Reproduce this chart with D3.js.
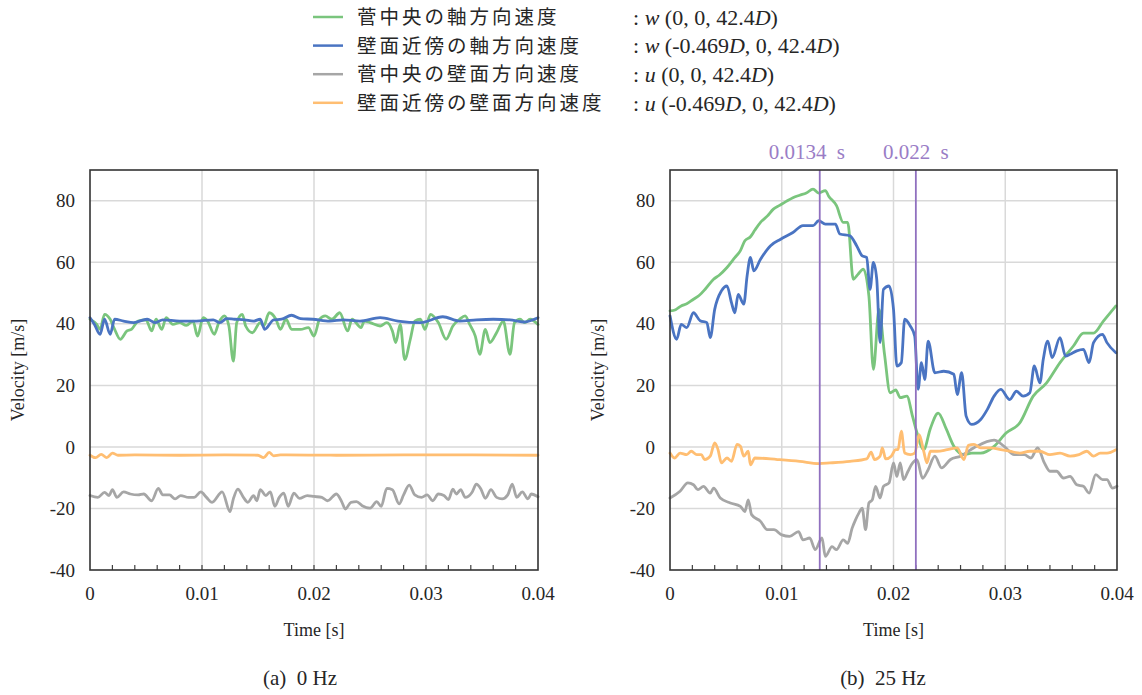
<!DOCTYPE html>
<html>
<head>
<meta charset="utf-8">
<script src="https://cdn.jsdelivr.net/npm/d3@7"></script>
<style>
  html, body { margin: 0; padding: 0; background: #fff; }
  svg { display: block; }
  .serif { font-family: "Liberation Serif", "Times New Roman", serif; }
  .jp { font-family: "Noto Sans CJK JP", "Noto Sans", sans-serif; }
</style>
</head>
<body>
<svg id="chart" width="1142" height="695"></svg>
<script>
// ---- axis ticks (time in ms, velocity in m/s) ----
const timeTicks = [0, 10, 20, 30, 40];
const timeTickLabels = ["0", "0.01", "0.02", "0.03", "0.04"];
const velTicks = [-40, -20, 0, 20, 40, 60, 80];
const minorTimeTicks = d3.range(2, 40, 2);

// ---- legend ----
const seriesNames = ["菅中央の軸方向速度", "壁面近傍の軸方向速度", "菅中央の壁面方向速度", "壁面近傍の壁面方向速度"];
const seriesNotes = [
  [[": ", 0], ["w", 1], [" (0, 0, 42.4", 0], ["D", 1], [")", 0]],
  [[": ", 0], ["w", 1], [" (-0.469", 0], ["D", 1], [", 0, 42.4", 0], ["D", 1], [")", 0]],
  [[": ", 0], ["u", 1], [" (0, 0, 42.4", 0], ["D", 1], [")", 0]],
  [[": ", 0], ["u", 1], [" (-0.469", 0], ["D", 1], [", 0, 42.4", 0], ["D", 1], [")", 0]]
];
const seriesColors = ["#7ac57d", "#4a74c2", "#a6a6a6", "#ffbe72"];

// ---- (a) 0 Hz : [time ms, velocity m/s] ----
const wCenter0 = [[0,41.5],[0.6,39.8],[0.9,38.2],[1.3,43.1],[1.8,41.5],[2.2,38.2],[2.7,35],[3.3,37.7],[3.7,38.2],[4.3,40.9],[5.0,41.3],[5.5,37.7],[5.9,41.5],[6.4,38.2],[6.8,42],[7.4,39.8],[8.0,40.4],[8.6,39.5],[9.2,40.9],[9.6,36],[10.1,42],[10.5,40.9],[11.1,36.6],[11.5,40.4],[12.0,42.6],[12.4,39.3],[12.8,27.9],[13.1,40.4],[13.6,43.1],[13.9,39.3],[14.5,37.1],[15.2,40.4],[15.5,39.3],[16.0,43.6],[16.6,41.5],[17.0,38.2],[17.5,41.5],[18.0,38.2],[18.8,38.2],[19.5,38.8],[20.0,36],[20.5,41.5],[21.0,42.6],[21.6,41.5],[22.3,43.6],[23.0,37.7],[23.4,41.5],[24.2,38.8],[24.5,40.9],[25.0,40.4],[25.9,39.3],[26.5,40.4],[27.0,37.7],[27.3,33.9],[27.7,39.8],[28.1,28.4],[28.6,35],[29.0,40.9],[29.5,41.5],[29.9,38.2],[30.4,43.1],[31.1,40.4],[31.8,35],[32.4,39.3],[33.0,41.5],[33.5,42.6],[33.9,39.8],[34.4,36],[34.8,30.1],[35.3,38.2],[35.7,33.9],[36.3,37.1],[36.9,40.9],[37.5,30.1],[37.9,40.4],[38.4,41.5],[38.8,40.4],[39.3,41.5],[40,39.8]];
const wWall0 = [[0,42],[0.4,39.8],[0.9,36.6],[1.3,41.5],[1.8,36.6],[2.2,41.5],[3.0,40.9],[3.9,40.4],[5.1,41.5],[5.8,40.4],[6.5,41.3],[8.0,40.9],[9.5,40.9],[11,41.3],[11.6,40.4],[12.2,41.7],[12.9,41.5],[13.8,41.3],[14.6,40.9],[15.2,41.5],[15.6,38.2],[16.4,41.3],[17.1,41.5],[18.0,42.8],[18.8,41.7],[19.9,41.5],[21.4,40.9],[22.6,41.3],[24.1,40.9],[25.9,42],[27.5,40.9],[29.5,40.4],[31.5,42.3],[33,40.9],[34.5,41.3],[36,41.5],[37.5,41.3],[38.7,40.6],[40,42]];
const uCenter0 = [[0,-15.8],[0.7,-16.4],[1.3,-14.8],[1.7,-15.8],[2.0,-13.9],[2.4,-16.4],[3.0,-14.6],[3.6,-15.3],[4.3,-15.6],[4.8,-15.3],[5.5,-17.5],[6.1,-13.5],[6.5,-15.6],[7.1,-15.6],[7.6,-16.9],[8.1,-15.8],[8.8,-16.4],[9.3,-16.4],[9.9,-14.6],[10.4,-16.4],[10.9,-18],[11.8,-14.6],[12.5,-21],[12.8,-16.9],[13.2,-13.7],[13.7,-16.4],[14.1,-18],[14.6,-15.8],[14.9,-17.5],[15.2,-13.9],[15.7,-15.8],[16.1,-14.6],[16.5,-19.3],[16.9,-16.4],[17.3,-15],[17.7,-19.3],[18.2,-15],[18.7,-16.7],[19.4,-15.8],[20.0,-16.1],[20.7,-16.4],[21.2,-17.5],[22.0,-15.3],[22.5,-18],[22.8,-20.2],[23.3,-18],[23.8,-17.8],[24.3,-19.1],[25.0,-19.9],[25.6,-17.8],[26.0,-19.3],[26.5,-13.5],[27.0,-13.9],[27.6,-18.5],[28.0,-15.6],[28.5,-12.4],[29.0,-15.6],[29.6,-16.4],[30.1,-15.6],[30.6,-17.5],[31.1,-15.3],[31.6,-15.8],[32.0,-17.1],[32.4,-13.7],[32.7,-15.3],[33.1,-13.9],[33.5,-16.4],[34.1,-14.8],[34.5,-12.1],[34.9,-13.7],[35.3,-16.7],[35.8,-13.9],[36.3,-16.4],[36.8,-16.9],[37.3,-15.6],[37.7,-12.1],[38.1,-16.4],[38.6,-14.6],[39.1,-16.9],[39.4,-15.3],[40,-16.2]];
const uWall0 = [[0,-2.7],[0.5,-3.5],[1.0,-2.4],[1.5,-3.5],[2.0,-2],[2.5,-2.7],[4,-2.6],[8,-2.7],[12,-2.6],[15,-2.7],[15.5,-3.5],[16.0,-1.8],[16.4,-2.9],[17,-2.6],[22,-2.7],[28,-2.6],[34,-2.6],[40,-2.7]];

// ---- (b) 25 Hz : [time ms, velocity m/s] ----
const wCenter25 = [[0,44.2],[0.5,44.6],[1.0,45.8],[1.5,46.5],[2.1,48],[2.6,49.2],[3.2,51.5],[3.9,54.5],[4.4,55.8],[5.1,58.3],[5.8,61.5],[6.3,63.8],[6.7,67],[7.2,68.3],[7.6,70.5],[8.1,73],[8.7,75],[9.25,77.3],[9.8,78.5],[10.4,79.8],[11,81],[11.6,81.8],[12.2,82.5],[12.8,83.8],[13.3,82.5],[13.9,83.3],[14.2,81.5],[14.9,78.4],[15.5,73],[15.9,73],[16.4,54.5],[16.8,56],[17.3,57.8],[17.8,49],[18.2,25.2],[18.7,44.7],[19.2,30],[19.7,17.6],[20.2,18.5],[20.6,16],[21.2,16.5],[21.7,10],[22.1,4.6],[22.7,-0.9],[23.3,6],[24,11],[24.7,6],[25.4,0.2],[26.3,-2.5],[27.0,-2],[27.8,-2],[29,0.2],[30.1,4.6],[31.3,7.8],[32.5,16.5],[33.7,20.8],[34.9,27.4],[36.1,32.8],[37,37],[37.9,37],[38.8,41],[39.9,45.8]];
const wWall25 = [[0,42.6],[0.6,35],[1.0,39.8],[1.5,38.8],[2.1,43.6],[2.7,41],[3.3,40.4],[3.6,35.5],[4.0,44.7],[4.6,50.7],[5.1,52.3],[5.5,46.9],[5.8,43.6],[6.1,49.6],[6.6,46.4],[6.9,55.6],[7.2,61.6],[7.5,57.2],[8.1,61],[9.0,65.4],[9.9,67.5],[11,69.7],[11.9,71.9],[12.8,71.9],[13.3,73.5],[13.9,72.4],[14.8,72.4],[15.2,69.2],[16.1,68.6],[16.7,65.4],[17.2,62.1],[17.6,61.6],[17.9,51.2],[18.2,60],[18.5,54.5],[18.8,33.9],[19.1,51.2],[19.6,52.3],[20.0,44.7],[20.3,26.3],[20.7,27.4],[21.0,41.5],[21.5,39.3],[21.9,36],[22.2,18.7],[22.5,27.4],[22.8,21.9],[23.1,34.4],[23.7,24.1],[24.5,24.6],[25.4,23.6],[25.7,17],[26.1,24.1],[26.5,10],[27.0,7.3],[27.8,8.9],[28.4,12.2],[29.0,16.5],[29.6,18.7],[30.4,15.4],[31.0,18.1],[31.6,16.5],[32.2,17.6],[32.6,26.3],[33.1,20.8],[33.4,28.4],[33.8,34.4],[34.2,29],[34.9,35.5],[35.4,29.5],[35.8,30.1],[36.4,31.2],[37,31.7],[37.5,27.4],[37.9,33.9],[38.7,36.6],[39.1,33.9],[39.9,30.6]];
const uCenter25 = [[0,-16.6],[0.9,-14.4],[1.6,-11.7],[2.1,-12.3],[2.5,-13.9],[3.0,-12.8],[3.6,-15],[3.9,-13.4],[4.5,-16.6],[5.4,-18.2],[6.3,-19.3],[6.7,-21],[7.0,-17.2],[7.3,-22],[8.1,-24.2],[8.7,-26.9],[9.3,-26.9],[10,-28.6],[10.7,-29.1],[11.5,-27.5],[11.9,-30.2],[12.5,-29.6],[13.0,-33.4],[13.6,-29.6],[13.9,-35.6],[14.5,-32.4],[14.9,-33.4],[15.5,-30.2],[15.9,-31.3],[16.3,-26.4],[16.6,-23.7],[16.9,-21.5],[17.2,-19.9],[17.5,-26.9],[17.8,-18.2],[18.1,-17.2],[18.4,-12.8],[18.8,-16.6],[19.1,-12.8],[19.6,-11.7],[20.0,-5.2],[20.3,-9.6],[20.6,-5.2],[20.9,-10.6],[21.3,-7.9],[21.6,-5.8],[22.1,-4.1],[22.6,-10.2],[23.1,-7.4],[23.7,-3.0],[24.3,-6.8],[25.1,-4.1],[26.0,-3.0],[27.2,-0.3],[29,2.2],[29.9,0.2],[30.8,-2.5],[31.7,-2.5],[32.3,-3.6],[32.9,-0.3],[33.5,-5.2],[34.0,-7.9],[34.6,-7.9],[35.2,-10.1],[35.8,-9.6],[36.4,-12.3],[37.0,-12.8],[37.5,-15],[38.1,-9],[38.7,-10.6],[39.1,-10.6],[39.6,-13.4],[40,-12.8]];
const uWall25 = [[0,-2],[0.4,-3.6],[0.9,-2],[1.5,-2.5],[1.9,-1.4],[2.4,-2.5],[2.8,-2.5],[3.1,-4.1],[3.6,-3],[4.0,1.3],[4.3,-0.9],[4.6,-5.2],[5.1,-3.6],[5.5,-4.7],[6.0,0.8],[6.3,0.2],[6.6,-3],[7.0,-1.4],[7.2,-5.8],[7.6,-3.6],[9.6,-4.1],[11.6,-4.7],[13.3,-5.4],[14.3,-5.2],[16.1,-4.7],[17.6,-3.9],[18.0,-1.7],[18.3,-4.1],[18.8,-3],[19.0,-0.3],[19.3,-3.9],[19.8,-3],[20.2,-0.9],[20.4,-0.9],[20.7,5.1],[21.0,-2],[21.5,-2.5],[21.9,-2],[22.3,4.0],[22.7,-1.4],[23.0,-5.2],[23.3,-1.4],[23.9,-1.4],[24.8,-0.9],[25.7,-0.3],[26.3,-4.1],[26.7,0.5],[27.2,0.8],[27.8,-0.3],[28.7,-0.3],[29.6,-0.9],[30.4,-1.4],[31.3,-2],[32.2,-1.4],[33.1,-1.4],[34.0,-2.5],[34.9,-2],[35.8,-3],[36.6,-2.5],[37.3,-1.4],[37.9,-3],[38.5,-2],[39.1,-2],[39.9,-0.9]];

// marker times for panel (b), ms
const markerTimes = [13.4, 22.0];
const markerValues = ["0.0134", "0.022"];

const svg = d3.select("#chart");
const serif = '"Liberation Serif", "Times New Roman", serif';
const textColor = "#262626";

// ---- legend ----
const legend = svg.append("g");
seriesNames.forEach((name, i) => {
  const y = 17 + i * 28.6;
  legend.append("line")
    .attr("x1", 313).attr("x2", 343).attr("y1", y).attr("y2", y)
    .attr("stroke", seriesColors[i]).attr("stroke-width", 2.5);
  legend.append("text").attr("class", "jp")
    .attr("x", 357).attr("y", y).attr("dy", "0.36em")
    .attr("font-size", 19.5).attr("letter-spacing", 3)
    .attr("fill", textColor).text(name);
  const t = legend.append("text").attr("class", "serif")
    .attr("x", 633).attr("y", y).attr("dy", "0.35em")
    .attr("font-size", 22).attr("fill", textColor);
  seriesNotes[i].forEach(([s, it]) => {
    t.append("tspan").attr("font-style", it ? "italic" : "normal").text(s);
  });
});

function drawPanel(opt) {
  const x = d3.scaleLinear().domain([0, 40]).range([opt.left, opt.right]);
  const y = d3.scaleLinear().domain([-40, 90]).range([570, 170]);
  const g = svg.append("g");

  // gridlines
  g.append("g").selectAll("line").data(velTicks.filter(v => v > -40))
    .join("line")
    .attr("x1", opt.left).attr("x2", opt.right)
    .attr("y1", d => y(d)).attr("y2", d => y(d))
    .attr("stroke", "#d9d9d9").attr("stroke-width", 1.5);
  g.append("g").selectAll("line").data(timeTicks.filter(t => t > 0 && t < 40))
    .join("line")
    .attr("x1", d => x(d)).attr("x2", d => x(d))
    .attr("y1", 170).attr("y2", 570)
    .attr("stroke", "#d9d9d9").attr("stroke-width", 1.5);

  // minor ticks on the time axis, pointing inward
  g.append("g").selectAll("line").data(minorTimeTicks)
    .join("line")
    .attr("x1", d => x(d)).attr("x2", d => x(d))
    .attr("y1", 570).attr("y2", 565)
    .attr("stroke", "#404040").attr("stroke-width", 1.2);

  // series
  const line = d3.line().x(d => x(d[0])).y(d => y(d[1])).curve(d3.curveMonotoneX);
  opt.series.forEach((data, i) => {
    g.append("path").datum(data)
      .attr("d", line)
      .attr("fill", "none")
      .attr("stroke", seriesColors[i])
      .attr("stroke-width", 2.8)
      .attr("stroke-linejoin", "round")
      .attr("stroke-linecap", "round");
  });

  // time markers
  if (opt.markers) {
    opt.markers.forEach((m, i) => {
      g.append("line")
        .attr("x1", x(m)).attr("x2", x(m)).attr("y1", 170).attr("y2", 570)
        .attr("stroke", "#9070bf").attr("stroke-width", 1.8);
      const lbl = g.append("text")
        .attr("x", x(m) + opt.markerShift[i]).attr("y", 152).attr("dy", "0.35em")
        .attr("text-anchor", "middle")
        .attr("font-family", serif).attr("font-size", 21)
        .attr("fill", "#9a7dc6");
      lbl.append("tspan").text(markerValues[i]);
      lbl.append("tspan").attr("dx", 5).text(" s");
    });
  }

  // frame
  g.append("rect")
    .attr("x", opt.left).attr("y", 170)
    .attr("width", opt.right - opt.left).attr("height", 400)
    .attr("fill", "none").attr("stroke", "#333").attr("stroke-width", 1.6);

  // tick labels
  g.append("g").selectAll("text").data(velTicks)
    .join("text")
    .attr("x", opt.left - 15).attr("y", d => y(d)).attr("dy", "0.35em")
    .attr("text-anchor", "end")
    .attr("font-family", serif).attr("font-size", 19).attr("fill", textColor)
    .text(d => d);
  g.append("g").selectAll("text").data(timeTicks)
    .join("text")
    .attr("x", d => x(d)).attr("y", 593).attr("dy", "0.35em")
    .attr("text-anchor", "middle")
    .attr("font-family", serif).attr("font-size", 19).attr("fill", textColor)
    .text((d, i) => timeTickLabels[i]);

  // axis titles
  const cx = (opt.left + opt.right) / 2;
  g.append("text")
    .attr("x", cx).attr("y", 630).attr("dy", "0.35em")
    .attr("text-anchor", "middle")
    .attr("font-family", serif).attr("font-size", 18).attr("fill", textColor)
    .text("Time [s]");
  g.append("text")
    .attr("transform", `translate(${opt.left - 72},370) rotate(-90)`)
    .attr("dy", "0.35em")
    .attr("text-anchor", "middle")
    .attr("font-family", serif).attr("font-size", 18).attr("fill", textColor)
    .text("Velocity [m/s]");

  // caption
  g.append("text")
    .attr("x", opt.captionX).attr("y", 678).attr("dy", "0.35em")
    .attr("text-anchor", "middle")
    .attr("font-family", serif).attr("font-size", 21).attr("fill", textColor)
    .attr("xml:space", "preserve")
    .text(opt.caption);
}

drawPanel({
  left: 90, right: 538,
  series: [wCenter0, wWall0, uCenter0, uWall0],
  caption: "(a)  0 Hz", captionX: 300
});
drawPanel({
  left: 670, right: 1117,
  series: [wCenter25, wWall25, uCenter25, uWall25],
  markers: markerTimes, markerShift: [-13, 0],
  caption: "(b)  25 Hz", captionX: 883
});
</script>
</body>
</html>
